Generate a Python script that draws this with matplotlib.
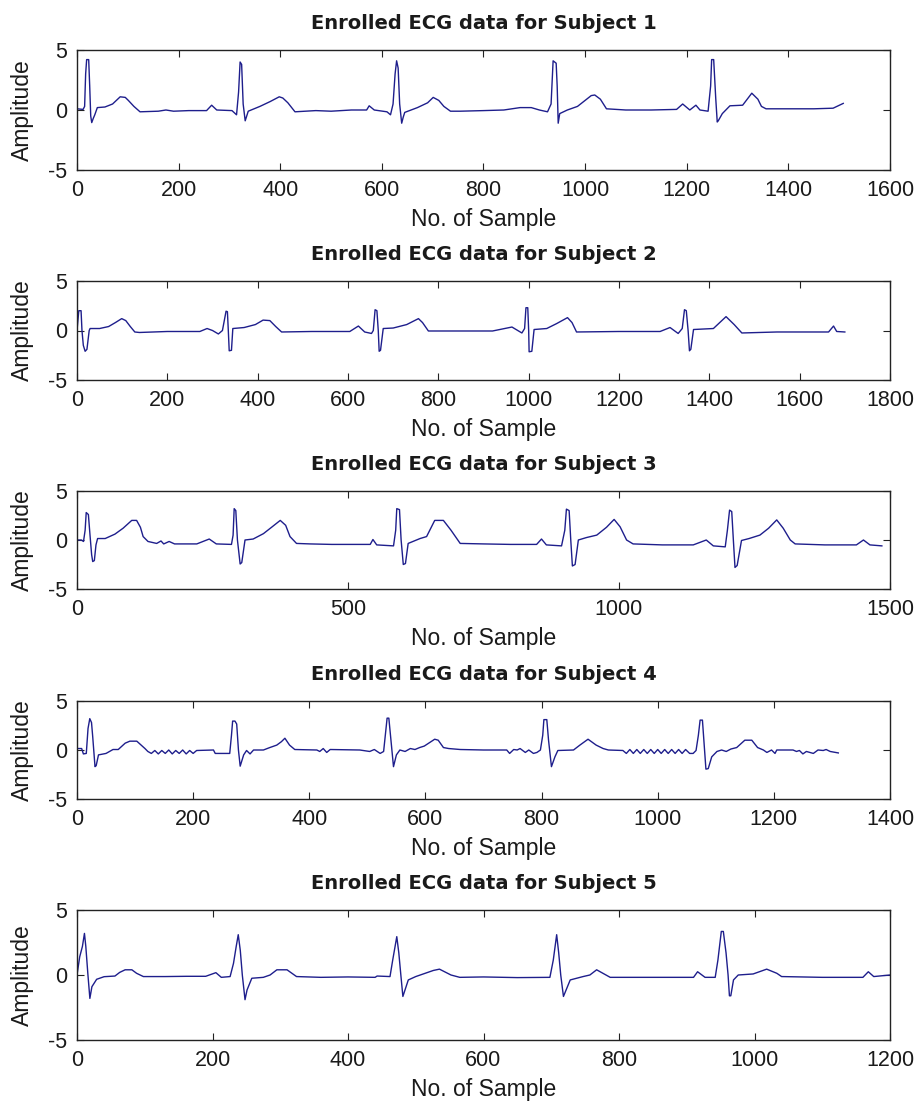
import matplotlib
matplotlib.use("Agg")
import matplotlib.pyplot as plt

# ---------------- data (vertices) ----------------
s1_x = [0, 12, 15, 17, 19, 23, 25, 27, 29, 32, 35, 40, 55, 70, 85, 95, 101, 112, 124, 160, 175, 190, 220, 255,
        265, 275, 305, 314, 318, 321, 324, 327, 331, 334, 337, 360, 380, 398, 405, 415, 429, 470, 500, 540, 570,
        575, 585, 610, 617, 622, 626, 629, 632, 635, 639, 642, 645, 670, 690, 701, 712, 722, 735, 754, 800, 840,
        872, 894, 910, 926, 933, 937, 943, 945, 947, 950, 965, 985, 1000, 1012, 1019, 1030, 1042, 1080, 1130,
        1180, 1192, 1206, 1218, 1226, 1242, 1247, 1249, 1253, 1257, 1260, 1262, 1270, 1285, 1310, 1328, 1340,
        1347, 1356, 1400, 1450, 1488, 1508]
s1_y = [0.1, 0.05, 0.3, 3.0, 4.2, 4.2, 2.0, -0.5, -1.05, -0.7, -0.4, 0.2, 0.25, 0.5, 1.1, 1.05, 0.8, 0.3, -0.15,
        -0.1, 0.0, -0.1, -0.05, -0.05, 0.4, 0.0, -0.05, -0.4, 1.5, 4.0, 3.8, 0.5, -0.9, -0.5, -0.1, 0.3, 0.7,
        1.1, 1.0, 0.6, -0.15, -0.05, -0.1, 0.0, 0.0, 0.35, 0.0, -0.15, -0.4, 0.5, 3.0, 4.1, 3.5, 0.5, -1.1, -0.6,
        -0.2, 0.2, 0.6, 1.05, 0.8, 0.3, -0.1, -0.1, -0.05, 0.0, 0.2, 0.2, 0.0, -0.15, 0.5, 4.1, 3.9, 2.0, -1.1,
        -0.3, 0.0, 0.3, 0.8, 1.2, 1.25, 0.9, 0.1, 0.0, 0.0, 0.05, 0.5, 0.0, 0.4, 0.0, -0.1, 2.0, 4.2, 4.2, 1.0,
        -1.0, -0.9, -0.3, 0.35, 0.4, 1.4, 0.9, 0.3, 0.1, 0.1, 0.1, 0.15, 0.55]

s2_x = [0, 4, 9, 11, 14, 18, 22, 27, 29, 50, 70, 85, 99, 108, 118, 128, 138, 200, 272, 288, 300, 313, 322, 330,
        333, 335, 337, 342, 345, 370, 395, 412, 427, 440, 453, 520, 604, 623, 637, 652, 656, 660, 664, 667, 669,
        672, 678, 700, 730, 756, 765, 778, 850, 920, 963, 985, 991, 994, 998, 1000, 1001, 1007, 1012, 1040,
        1062, 1086, 1096, 1106, 1200, 1291, 1313, 1331, 1340, 1345, 1349, 1353, 1356, 1359, 1365, 1409, 1437,
        1455, 1472, 1550, 1664, 1675, 1682, 1700]
s2_y = [0.0, 2.0, 2.0, 0.0, -1.5, -2.1, -1.9, 0.0, 0.2, 0.2, 0.4, 0.8, 1.2, 1.0, 0.4, -0.15, -0.2, -0.1, -0.1,
        0.2, 0.0, -0.35, 0.0, 1.95, 1.9, 0.0, -2.05, -2.0, 0.2, 0.3, 0.6, 1.05, 1.0, 0.4, -0.15, -0.1, -0.1,
        0.45, -0.15, -0.3, 0.0, 2.1, 2.0, 0.0, -2.1, -2.0, 0.2, 0.25, 0.6, 1.2, 0.8, -0.05, -0.05, -0.05, 0.35,
        -0.25, 0.2, 2.3, 2.3, 0.0, -2.15, -2.1, 0.1, 0.2, 0.7, 1.3, 0.8, -0.15, -0.1, -0.1, 0.3, -0.3, 0.2,
        2.1, 2.0, 0.0, -2.05, -1.9, 0.1, 0.2, 1.4, 0.6, -0.25, -0.15, -0.15, 0.45, -0.1, -0.15]

s3_x = [0, 8, 12, 15, 17, 21, 24, 27, 29, 32, 35, 38, 52, 70, 85, 101, 110, 117, 122, 131, 147, 155, 160, 170,
        180, 221, 244, 257, 285, 288, 290, 293, 296, 301, 304, 310, 325, 344, 359, 375, 385, 393, 405, 430, 470,
        500, 541, 546, 553, 584, 588, 590, 595, 598, 602, 606, 611, 633, 645, 660, 676, 690, 707, 750, 800, 848,
        857, 866, 894, 900, 903, 908, 911, 914, 919, 925, 940, 959, 977, 991, 1002, 1014, 1026, 1080, 1137,
        1161, 1174, 1196, 1200, 1204, 1208, 1211, 1214, 1218, 1226, 1240, 1260, 1276, 1291, 1303, 1316, 1325,
        1380, 1438, 1451, 1463, 1485]
s3_y = [0.0, 0.0, -0.15, 1.0, 2.8, 2.6, 0.5, -1.5, -2.2, -2.1, -0.5, 0.15, 0.15, 0.6, 1.2, 2.0, 2.0, 1.3, 0.35,
        -0.15, -0.35, -0.1, -0.4, -0.15, -0.4, -0.4, 0.1, -0.4, -0.45, 0.5, 3.2, 3.0, 0.0, -2.45, -2.3, 0.0,
        0.1, 0.65, 1.3, 2.0, 1.5, 0.35, -0.35, -0.4, -0.45, -0.45, -0.45, 0.05, -0.5, -0.6, 1.0, 3.2, 3.1, 0.0,
        -2.5, -2.4, -0.35, 0.15, 0.35, 2.0, 2.0, 1.0, -0.35, -0.4, -0.45, -0.45, 0.1, -0.5, -0.6, 1.0, 3.15,
        3.0, 0.0, -2.65, -2.5, 0.0, 0.25, 0.5, 1.3, 2.1, 1.35, 0.0, -0.4, -0.5, -0.5, 0.0, -0.6, -0.7, 1.0,
        3.05, 2.9, 0.0, -2.8, -2.6, -0.05, 0.15, 0.5, 1.2, 2.05, 1.2, 0.0, -0.4, -0.5, -0.5, 0.0, -0.5, -0.6]

s4_x = [0, 8, 11, 16, 19, 22, 25, 27, 31, 33, 37, 50, 62, 71, 83, 91, 103, 117, 122, 128, 134, 140, 146, 152,
        158, 164, 170, 176, 182, 188, 194, 200, 206, 235, 238, 263, 266, 268, 272, 275, 278, 281, 287, 292, 298,
        304, 321, 332, 344, 352, 358, 366, 375, 413, 418, 424, 430, 436, 487, 504, 512, 522, 528, 530, 534, 537,
        540, 545, 550, 556, 565, 574, 582, 590, 598, 616, 622, 631, 640, 660, 700, 740, 745, 752, 758, 763, 772,
        778, 786, 792, 798, 802, 804, 809, 812, 817, 823, 828, 855, 866, 880, 894, 906, 915, 940, 946, 952, 958,
        964, 970, 976, 982, 988, 994, 1000, 1006, 1012, 1018, 1024, 1030, 1036, 1042, 1048, 1055, 1061, 1066,
        1070, 1073, 1077, 1080, 1083, 1087, 1093, 1102, 1110, 1118, 1126, 1136, 1150, 1162, 1172, 1182, 1188,
        1196, 1202, 1205, 1233, 1239, 1244, 1250, 1256, 1268, 1276, 1285, 1290, 1297, 1311]
s4_y = [0.15, 0.15, -0.4, -0.35, 2.2, 3.2, 2.8, 1.4, -1.7, -1.6, -0.5, -0.35, 0.05, 0.05, 0.7, 0.9, 0.9, 0.15,
        -0.15, -0.35, -0.05, -0.4, -0.05, -0.35, 0.0, -0.4, -0.05, -0.35, 0.0, -0.4, -0.05, -0.35, -0.05, 0.0,
        -0.35, -0.35, 1.5, 2.95, 2.95, 2.65, 0.0, -1.65, -0.5, -0.05, -0.4, 0.0, 0.0, 0.25, 0.5, 0.85, 1.2, 0.5,
        0.05, 0.0, -0.15, 0.15, -0.25, 0.05, 0.0, -0.15, 0.05, -0.35, -0.15, 1.0, 3.25, 3.25, 1.35, -1.7, -0.5,
        0.0, -0.15, 0.15, 0.05, 0.25, 0.4, 1.1, 1.0, 0.25, 0.15, 0.05, 0.0, 0.0, -0.35, 0.05, 0.0, 0.15, -0.25,
        0.0, -0.35, -0.25, 0.0, 1.5, 3.1, 3.1, 1.0, -1.7, -0.7, -0.05, 0.0, 0.5, 1.1, 0.5, 0.15, 0.0, -0.05,
        -0.35, 0.05, -0.35, 0.05, -0.35, 0.05, -0.35, 0.05, -0.35, 0.05, -0.35, 0.05, -0.35, 0.05, -0.35, 0.05,
        -0.35, 0.05, -0.35, -0.35, -0.05, 1.5, 3.05, 3.05, 0.5, -1.95, -1.9, -0.7, -0.15, 0.0, -0.15, 0.1, 0.25,
        1.0, 1.0, 0.25, 0.0, -0.25, 0.0, -0.35, 0.0, 0.0, -0.15, -0.05, -0.4, -0.15, -0.35, 0.0, -0.05, 0.05,
        -0.15, -0.3]

s5_x = [0, 4, 8, 11, 13, 16, 19, 22, 29, 40, 56, 63, 71, 81, 88, 98, 130, 162, 190, 205, 213, 226, 231, 235,
        238, 241, 244, 248, 251, 258, 275, 285, 295, 310, 324, 360, 400, 440, 443, 462, 466, 472, 475, 478, 481,
        489, 500, 526, 535, 552, 565, 600, 650, 698, 703, 708, 711, 714, 718, 728, 747, 757, 767, 787, 850, 910,
        916, 927, 942, 946, 951, 954, 958, 961, 963, 965, 969, 976, 998, 1018, 1033, 1040, 1100, 1160, 1168,
        1176, 1200]
s5_y = [0.0, 1.4, 2.2, 3.2, 2.2, 0.1, -1.8, -0.9, -0.33, -0.13, -0.08, 0.2, 0.4, 0.4, 0.13, -0.12, -0.12, -0.1,
        -0.1, 0.18, -0.18, -0.12, 0.9, 2.2, 3.1, 1.9, 0.0, -1.9, -1.15, -0.25, -0.18, 0.0, 0.4, 0.4, -0.12,
        -0.18, -0.15, -0.18, -0.08, -0.12, 1.15, 2.95, 1.7, 0.0, -1.65, -0.38, -0.12, 0.35, 0.45, 0.0, -0.18,
        -0.15, -0.2, -0.18, 1.15, 3.1, 1.7, 0.0, -1.65, -0.38, -0.12, 0.0, 0.4, -0.18, -0.18, -0.18, 0.25,
        -0.18, -0.18, 1.15, 3.35, 3.35, 1.7, 0.0, -1.6, -1.6, -0.38, 0.0, 0.08, 0.45, 0.13, -0.12, -0.18, -0.18,
        0.25, -0.12, 0.0]

subjects = ["Subject 1", "Subject 2", "Subject 3", "Subject 4", "Subject 5"]
series_x = [s1_x, s2_x, s3_x, s4_x, s5_x]
series_y = [s1_y, s2_y, s3_y, s4_y, s5_y]
x_limits = [1600, 1800, 1500, 1400, 1200]
x_ticks = [list(range(0, 1601, 200)), list(range(0, 1801, 200)), [0, 500, 1000, 1500],
           list(range(0, 1401, 200)), list(range(0, 1201, 200))]
y_ticks = [-5, 0, 5]

# ---------------- layout (pixel boxes: top, bottom) ----------------
W, H = 920, 1104
left_px, right_px = 77, 890
boxes = [(50, 170), (281, 380), (491, 589), (701, 799), (910, 1040)]

fig = plt.figure(figsize=(W / 100, H / 100), dpi=100)
fig.patch.set_facecolor("white")

tick_font = dict(family=["Liberation Sans", "DejaVu Sans"], size=15.5)
label_font = dict(family=["Liberation Sans", "DejaVu Sans"], size=16.5)

for i in range(5):
    top, bot = boxes[i]
    ax = fig.add_axes([left_px / W, 1 - bot / H, (right_px - left_px) / W, (bot - top) / H])
    ax.plot(series_x[i], series_y[i], color="#1e1e8c", linewidth=1.0)
    ax.set_xlim(0, x_limits[i])
    ax.set_ylim(-5, 5)
    ax.set_xticks(x_ticks[i])
    ax.set_yticks(y_ticks)
    ax.set_xticklabels([str(t) for t in x_ticks[i]], **tick_font)
    ax.set_yticklabels([str(t) for t in y_ticks], **tick_font)
    ax.tick_params(direction="in", top=True, right=True, length=5, width=0.8,
                   pad=7, colors="#222222")
    ax.tick_params(labelcolor="#1a1a1a")
    for sp in ax.spines.values():
        sp.set_color("#222222")
        sp.set_linewidth(1.0)
    ax.set_title("Enrolled ECG data for " + subjects[i], fontsize=14, fontweight="bold",
                 family="DejaVu Sans", pad=15, color="#1a1a1a")
    ax.set_xlabel("No. of Sample", labelpad=5, color="#1a1a1a", **label_font)
    ax.set_ylabel("Amplitude", color="#1a1a1a", **label_font)
    ax.yaxis.set_label_coords(-0.053, 0.5)

fig.savefig("out.png", dpi=100, facecolor="white")
